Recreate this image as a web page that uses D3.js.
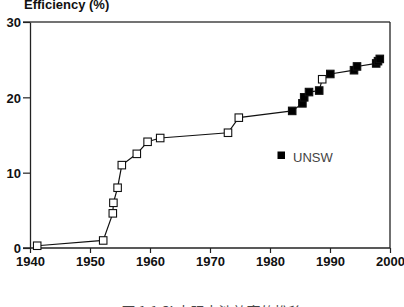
<!DOCTYPE html>
<html><head><meta charset="utf-8">
<script src="https://cdn.jsdelivr.net/npm/d3@7"></script>
<style>html,body{margin:0;padding:0;background:#fff;overflow:hidden}svg{display:block}</style>
</head><body>
<script>
const xTicks = [1940, 1950, 1960, 1970, 1980, 1990, 2000];
const yTicks = [0, 10, 20, 30];
const openYears = [1941.2, 1952.2, 1953.8, 1953.9, 1954.6, 1955.3, 1957.8, 1959.6, 1961.7, 1973.0, 1974.8, 1988.7];
const openEff   = [0.3, 1.0, 4.6, 6.0, 8.0, 11.0, 12.5, 14.1, 14.6, 15.3, 17.3, 22.4];
const unswYears = [1983.7, 1985.4, 1985.7, 1986.5, 1988.2, 1990.05, 1994.0, 1994.5, 1997.7, 1998.0, 1998.3];
const unswEff   = [18.2, 19.2, 20.0, 20.7, 20.9, 23.1, 23.6, 24.1, 24.5, 24.8, 25.1];
const yTitle = "Efficiency (%)";
const legendLabel = "UNSW";
const caption = "图 1.1  Si 太阳电池效率的推移";

const W = 404, H = 307;
const svg = d3.select("body").append("svg").attr("width", W).attr("height", H);
const x = d3.scaleLinear().domain([1940, 2000]).range([30, 390]);
const y = d3.scaleLinear().domain([0, 30]).range([248, 22]);
const font = "'Liberation Sans', Arial, sans-serif";

const openPts = openYears.map((d, i) => ({yr: d, v: openEff[i], f: false}));
const unswPts = unswYears.map((d, i) => ({yr: d, v: unswEff[i], f: true}));
const all = openPts.concat(unswPts).sort((a, b) => a.yr - b.yr);

// frame: top and right
svg.append("line").attr("x1", 23).attr("x2", 390).attr("y1", y(30)).attr("y2", y(30))
  .attr("stroke", "#444").attr("stroke-width", 1.3);
svg.append("line").attr("x1", 390).attr("x2", 390).attr("y1", y(30)).attr("y2", y(0))
  .attr("stroke", "#222").attr("stroke-width", 1.3);

// axes
const xAxis = svg.append("g").attr("transform", `translate(0,${y(0)})`)
  .call(d3.axisBottom(x).tickValues(xTicks).tickFormat(d3.format("d")).tickSize(5).tickSizeOuter(0));
const yAxis = svg.append("g").attr("transform", `translate(${x(1940)},0)`)
  .call(d3.axisLeft(y).tickValues(yTicks).tickSize(7).tickSizeOuter(0));
[xAxis, yAxis].forEach(g => {
  g.select(".domain").attr("stroke", "#222").attr("stroke-width", 1.3);
  g.selectAll(".tick line").attr("stroke", "#222").attr("stroke-width", 1.2);
  g.selectAll("text").attr("font-family", font).attr("font-size", 13).attr("font-weight", "bold").attr("fill", "#111");
});
xAxis.select(".domain").attr("d", "M23,0H390");
xAxis.selectAll(".tick text").attr("y", 9).attr("dy", "0.71em");
yAxis.selectAll(".tick text").attr("x", -9).attr("dy", "0.36em");

// y title
svg.append("text").attr("x", 24).attr("y", 9).text(yTitle)
  .attr("font-family", font).attr("font-size", 13).attr("font-weight", "bold").attr("fill", "#111");

// line
const line = d3.line().x(d => x(d.yr)).y(d => y(d.v));
svg.append("path").datum(all).attr("d", line).attr("fill", "none")
  .attr("stroke", "#111").attr("stroke-width", 1.2);

// markers
const s = 7.5;
svg.append("g").selectAll("rect").data(all).join("rect")
  .attr("x", d => x(d.yr) - s / 2).attr("y", d => y(d.v) - s / 2)
  .attr("width", s).attr("height", s)
  .attr("fill", d => d.f ? "#000" : "#fff")
  .attr("stroke", "#111").attr("stroke-width", 1.1);

// legend
svg.append("rect").attr("x", 277.5).attr("y", 151.5).attr("width", 7.5).attr("height", 7.5).attr("fill", "#000");
svg.append("text").attr("x", 293).attr("y", 162).text(legendLabel)
  .attr("font-family", font).attr("font-size", 13).attr("fill", "#444");

// caption (mostly cut off at bottom, as in the reference)
svg.append("text").attr("x", 212).attr("y", 317).attr("text-anchor", "middle").text(caption)
  .attr("font-family", "'Noto Sans CJK SC', sans-serif").attr("font-size", 14).attr("fill", "#444");
</script>
</body></html>
